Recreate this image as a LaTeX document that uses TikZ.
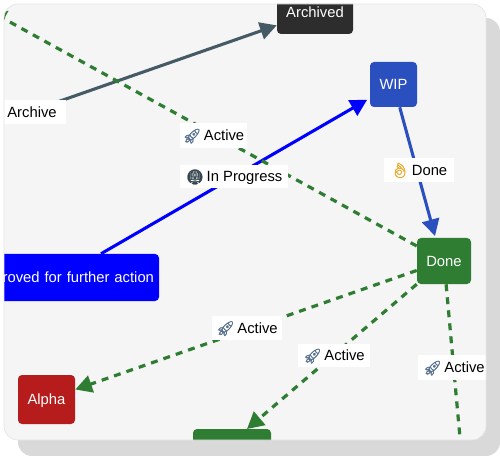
\documentclass[tikz,border=0pt]{standalone}
\usepackage{fontspec}
\setmainfont{Liberation Sans}
\newfontfamily\emojifont[FakeBold=1.6]{Noto Emoji}
\usetikzlibrary{arrows.meta}
\definecolor{cardbg}{HTML}{F5F5F5}
\definecolor{cardedge}{HTML}{E4E4E4}
\definecolor{shadowgray}{HTML}{D9D9D9}
\definecolor{slateedge}{HTML}{455A64}
\definecolor{archivedfill}{HTML}{2D2D2D}
\definecolor{wipblue}{HTML}{2A50BF}
\definecolor{donegreen}{HTML}{2E7D32}
\definecolor{alphared}{HTML}{B71C1C}
\definecolor{rocketcol}{HTML}{5A7390}
\definecolor{okcol}{HTML}{EFA92A}
\definecolor{traincol}{HTML}{37474F}
\newcommand{\rocket}{{\emojifont\fontsize{11pt}{12pt}\selectfont\textcolor{rocketcol}{🚀}}}
\newcommand{\metro}{{\emojifont\fontsize{11pt}{12pt}\selectfont\textcolor{traincol}{🚇}}}
\newcommand{\okhand}{{\emojifont\fontsize{11pt}{12pt}\selectfont\textcolor{okcol}{👌}}}
\tikzset{
  statebox/.style={rounded corners=3pt,inner sep=0pt,text=white,font=\fontsize{11.1pt}{12pt}\selectfont,text height=8.2pt,text depth=0pt},
  edgelabel/.style={fill=white,inner sep=0pt,text=black,font=\fontsize{11.1pt}{12pt}\selectfont,text height=8.2pt,text depth=0pt},
  headtip/.style={-{Triangle[length=12.5pt,width=13pt]}},
  solidedge/.style={line width=2.3pt,headtip},
  dashedge/.style={line width=2.4pt,headtip,donegreen,dash pattern=on 5.2pt off 4.6pt},
}
\begin{document}
\begin{tikzpicture}[x=0.75pt,y=-0.75pt]
\useasboundingbox (0,0) rectangle (500,456);
\fill[white] (0,0) rectangle (500,456);
\fill[shadowgray,rounded corners=10.5pt] (18,18) rectangle (500,456);
\fill[cardbg,rounded corners=10.5pt] (4,4) rectangle (486,440);
\begin{scope}
\clip[rounded corners=10.5pt] (4,4) rectangle (486,440);
% nodes
\node[statebox,fill=archivedfill,minimum width=76*0.75pt,minimum height=44*0.75pt] (archived) at (315,12) {Archived};
\node[statebox,fill=wipblue,minimum width=47*0.75pt,minimum height=45*0.75pt] (wip) at (393.5,84.5) {WIP};
\node[statebox,fill=donegreen,minimum width=54*0.75pt,minimum height=46*0.75pt] (done) at (444,261) {Done};
\node[statebox,fill=alphared,minimum width=57*0.75pt,minimum height=49*0.75pt] (alpha) at (46.5,399.5) {Alpha};
\node[statebox,fill=blue,minimum width=198*0.75pt,minimum height=47*0.75pt,text width=198*0.75pt-7.5pt,align=right] (approved) at (60,277.5) {Approved for further action};
\node[statebox,fill=donegreen,minimum width=78*0.75pt,minimum height=46*0.75pt] (beta) at (232,452) {};
% free ends
\coordinate (archsrc) at (0,122);
\coordinate (toptip) at (-10.5,10.8);
\coordinate (betatip) at (247,429);
\coordinate (donetip) at (435,236);
\coordinate (bottomend) at (462,460);
% connectors
\draw[solidedge,slateedge] (archsrc) -- (archived);
\draw[solidedge,blue,shorten >=2.2pt] (approved) -- (wip);
\draw[solidedge,wipblue] (wip) -- (donetip);
\draw[dashedge] (done) -- (toptip);
\draw[dashedge] (done) -- (alpha);
\draw[dashedge] (done) -- (betatip);
\draw[dashedge,-] (done) -- (bottomend);
% labels
\node[edgelabel,minimum width=68*0.75pt,minimum height=24*0.75pt] (l1) at (32,112) {Archive};
\node[edgelabel,minimum width=67*0.75pt,minimum height=25*0.75pt] (l2) at (213.5,135.5) {\rocket\,Active};
\node[edgelabel,minimum width=108*0.75pt,minimum height=23*0.75pt] (l3) at (234,176.5) {\metro\,In Progress\hspace{2pt}};
\node[edgelabel,minimum width=70*0.75pt,minimum height=24*0.75pt] (l4) at (419,170) {\okhand\,Done\hspace{4pt}};
\node[edgelabel,minimum width=70*0.75pt,minimum height=24*0.75pt] (l5) at (247,328) {\rocket\,Active};
\node[edgelabel,minimum width=72*0.75pt,minimum height=23*0.75pt] (l6) at (334,355.5) {\rocket\,Active};
\node[edgelabel,minimum width=72*0.75pt,minimum height=25*0.75pt] (l7) at (454,367.5) {\rocket\,Active};
\end{scope}
\draw[cardedge,line width=0.5pt,rounded corners=10.5pt] (4,4) rectangle (486,440);
\end{tikzpicture}
\end{document}
